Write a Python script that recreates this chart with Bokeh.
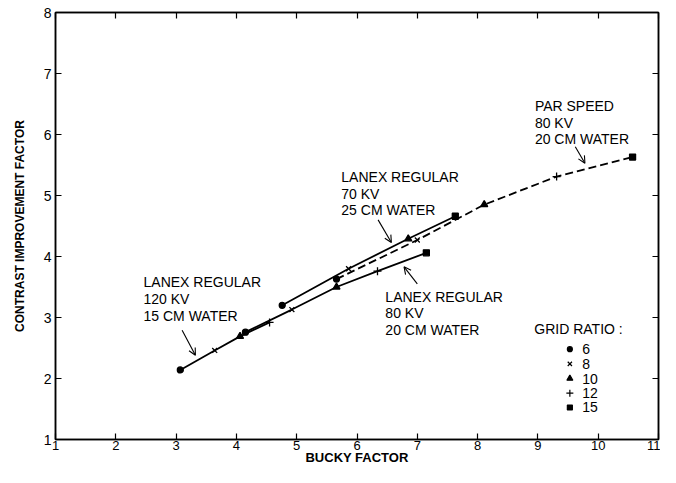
from bokeh.plotting import figure
from bokeh.models import Range1d, FixedTicker, LinearAxis, Arrow, OpenHead
from bokeh.core.properties import value
from bokeh.embed import file_html
from bokeh.resources import INLINE

# ---------------- data ----------------
X_TICKS = [1, 2, 3, 4, 5, 6, 7, 8, 9, 10, 11]
Y_TICKS = [1, 2, 3, 4, 5, 6, 7, 8]

GRID_RATIOS = [6, 8, 10, 12, 15]
GRID_MARKERS = ["circle", "x", "triangle", "cross", "square"]

# Lanex Regular, 120 kV, 15 cm water (solid)
kv120_x = [3.07, 3.64, 4.06, 4.55]
kv120_y = [2.14, 2.46, 2.69, 2.92]
kv120_r = [6, 8, 10, 12]

# Lanex Regular, 80 kV, 20 cm water (solid)
kv80_x = [4.15, 4.92, 5.66, 6.34, 7.15]
kv80_y = [2.76, 3.13, 3.50, 3.76, 4.06]
kv80_r = [6, 8, 10, 12, 15]

# Lanex Regular, 70 kV, 25 cm water (solid)
kv70_x = [4.76, 5.86, 6.85, 7.63]
kv70_y = [3.20, 3.80, 4.29, 4.66]
kv70_r = [6, 8, 10, 15]

# Par Speed, 80 kV, 20 cm water (dashed)
par_x = [5.66, 7.00, 8.11, 9.31, 10.57]
par_y = [3.63, 4.27, 4.85, 5.31, 5.63]
par_r = [6, 8, 10, 12, 15]

# annotation texts (lines) with anchor (left x, y of each line)
ANN_TEXT = ["LANEX REGULAR", "120 KV", "15 CM WATER",
            "LANEX REGULAR", "70 KV", "25 CM WATER",
            "PAR SPEED", "80 KV", "20 CM WATER",
            "LANEX REGULAR", "80 KV", "20 CM WATER"]
ANN_X = [2.46, 2.46, 2.46, 5.74, 5.74, 5.74, 8.95, 8.95, 8.95, 6.47, 6.47, 6.47]
ANN_Y = [3.58, 3.31, 3.03, 5.30, 5.03, 4.76, 6.46, 6.19, 5.92, 3.34, 3.07, 2.80]

# arrows: (x_start, y_start, x_end, y_end)
ARROWS = [(3.10, 2.79, 3.32, 2.38),
          (6.35, 4.60, 6.57, 4.23),
          (7.00, 3.55, 6.78, 3.83),
          (9.62, 5.80, 9.78, 5.53)]

# legend layout
LEG_TITLE = "GRID RATIO :"
LEG_TITLE_X, LEG_TITLE_Y = 8.94, 2.81
LEG_MARK_X, LEG_LABEL_X = 9.53, 9.735
LEG_Y = [2.48, 2.24, 2.00, 1.76, 1.525]

FONT = "Liberation Sans"
MARK_SIZE = {"circle": 6, "x": 7, "triangle": 7, "cross": 8, "square": 6}

p = figure(width=660, height=467, x_range=Range1d(1, 11), y_range=Range1d(1, 8),
           output_backend="svg", toolbar_location=None,
           min_border_left=55, min_border_right=2, min_border_top=12, min_border_bottom=25,
           background_fill_color="white", border_fill_color="white")
p.grid.visible = False
p.outline_line_color = "black"
p.outline_line_width = 1.5

for ax, ticks in ((p.xaxis[0], X_TICKS), (p.yaxis[0], Y_TICKS)):
    ax.ticker = FixedTicker(ticks=ticks)
    ax.major_tick_in = 6
    ax.major_tick_out = 0
    ax.minor_tick_line_color = None
    ax.axis_line_width = 1.5
    ax.major_tick_line_width = 1.2
    ax.major_label_text_font = FONT
    ax.major_label_text_font_size = "14px"
    ax.major_label_text_color = "black"
    ax.axis_label_text_font = FONT
    ax.axis_label_text_font_style = "bold"
    ax.axis_label_text_color = "black"

p.xaxis.axis_label = "BUCKY FACTOR"
p.yaxis.axis_label = "CONTRAST IMPROVEMENT FACTOR"
p.xaxis.major_label_text_font_size = "13px"
p.xaxis.axis_label_text_font_size = "13px"
p.yaxis.axis_label_text_font_size = "12px"
p.xaxis.major_label_standoff = 1
p.xaxis.axis_label_standoff = -3
p.yaxis.major_label_standoff = 4
p.yaxis.axis_label_standoff = 14

for loc, ticks in (("above", X_TICKS), ("right", Y_TICKS)):
    ax = LinearAxis(ticker=FixedTicker(ticks=ticks), major_tick_in=6, major_tick_out=0,
                    major_label_text_font_size="1px", major_label_text_color=None,
                    major_label_standoff=0,
                    minor_tick_line_color=None, axis_line_width=1.5, major_tick_line_width=1.2)
    p.add_layout(ax, loc)

# curves
curves = [(kv120_x, kv120_y, kv120_r, None),
          (kv80_x, kv80_y, kv80_r, None),
          (kv70_x, kv70_y, kv70_r, None),
          (par_x, par_y, par_r, "8 4")]
for xs, ys, rs, dash in curves:
    if dash:
        p.line(xs, ys, line_color="black", line_width=1.8, line_dash=dash)
    else:
        p.line(xs, ys, line_color="black", line_width=1.8)
    for r, m in zip(GRID_RATIOS, GRID_MARKERS):
        px = [x for x, rr in zip(xs, rs) if rr == r]
        py = [y for y, rr in zip(ys, rs) if rr == r]
        if px:
            p.scatter(px, py, marker=m, size=MARK_SIZE[m], line_color="black",
                      fill_color="black", line_width=1.3)

# annotations
p.text(ANN_X, ANN_Y, text=ANN_TEXT, text_font=value(FONT), text_font_size="14px",
       text_baseline="middle", text_align="left", text_color="black")
for xs, ys, xe, ye in ARROWS:
    p.add_layout(Arrow(end=OpenHead(size=7, line_width=1.1, line_color="black"),
                       x_start=xs, y_start=ys, x_end=xe, y_end=ye,
                       line_width=1.1, line_color="black"))

# legend
p.text([LEG_TITLE_X], [LEG_TITLE_Y], text=[LEG_TITLE], text_font=value(FONT),
       text_font_size="14px", text_baseline="middle", text_align="left")
for yv, r, m in zip(LEG_Y, GRID_RATIOS, GRID_MARKERS):
    p.scatter([LEG_MARK_X], [yv], marker=m, size=MARK_SIZE[m] - 1, line_color="black",
              fill_color="black", line_width=1.2)
p.text([LEG_LABEL_X] * len(LEG_Y), LEG_Y, text=[str(r) for r in GRID_RATIOS],
       text_font=value(FONT), text_font_size="14px", text_baseline="middle", text_align="left")

open("out.html", "w").write(file_html(p, INLINE))
